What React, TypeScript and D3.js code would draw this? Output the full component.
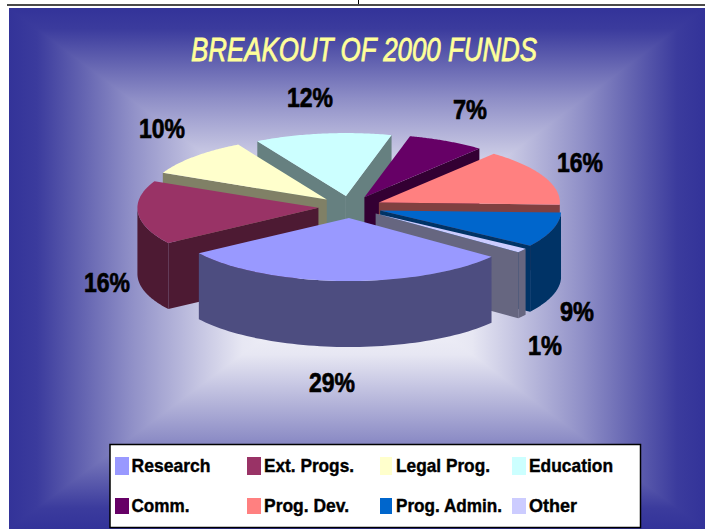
import React from "react";
import * as d3 from "d3";

const categories = ["Research", "Ext. Progs.", "Legal Prog.", "Education", "Comm.", "Prog. Dev.", "Prog. Admin.", "Other"];
// apparent share of the projected pie
const shares = [30, 16.4, 9.9, 12.2, 6.9, 14.6, 8.9, 1.1];
const labels = ["29%", "16%", "10%", "12%", "7%", "16%", "9%", "1%"];
const topColors = ["#9999ff", "#993366", "#ffffcc", "#ccffff", "#660066", "#ff8080", "#0066cc", "#ccccff"];
const legendTextWidths = [79, 90, 94, 84, 58, 85, 106, 48];
const labelAnchors: [number, number][] = [[332, 392], [107, 292], [162, 138], [310, 107], [470, 119], [580, 172], [577, 321], [545, 355]];
const gradientStops: [number, number][] = [[0, 0], [0.08, 0.04], [0.2, 0.22], [0.35, 0.45], [0.43, 0.56], [0.67, 0.88], [1, 1]];

const W = 705, H = 529;
const panel = { x: 9, y: 8, x2: 705, y2: 529 };
const focus = { x: (panel.x + panel.x2) / 2, y: (panel.y + panel.y2) / 2 };
const cx = 350, cy = 207, rx = 181, ry = 63, depth = 66, explode = 0.175;
const rad = (deg: number) => (deg * Math.PI) / 180;
const FONT = "'Liberation Sans', Arial, sans-serif";

const shade = d3.interpolateRgb("#333399", "#ffffff");
const pieGen = d3.pie<number>().sort(null).startAngle(rad(128)).endAngle(rad(128 + 360));
const arcs = pieGen(shares).map((a, i) => ({ ...a, i, mid: (a.startAngle + a.endAngle) / 2 }));
const order = [...arcs].sort((a, b) => Math.cos(b.mid) - Math.cos(a.mid));
const line = d3.line<[number, number]>();

function Slice({ a }: { a: (typeof arcs)[number] }) {
  const ox = cx + Math.sin(a.mid) * rx * explode;
  const oy = cy - Math.cos(a.mid) * ry * explode;
  const pt = (t: number, dz = 0): [number, number] => [ox + Math.sin(t) * rx, oy - Math.cos(t) * ry + dz];
  const sweep = (s: number, e: number) => d3.range(0, 61).map((k) => s + ((e - s) * k) / 60);
  const top = line([[ox, oy], ...sweep(a.startAngle, a.endAngle).map((t) => pt(t))]) + "Z";
  const fill = topColors[a.i];
  const c = d3.rgb(fill);
  const sideFill = d3.rgb(c.r * 0.5, c.g * 0.5, c.b * 0.5).formatHex();
  const faces: string[] = [];
  const radial = (t: number) => {
    const p = pt(t);
    return line([[ox, oy], p, [p[0], p[1] + depth], [ox, oy + depth]]) + "Z";
  };
  if (Math.sin(a.startAngle) < 0) faces.push(radial(a.startAngle));
  if (Math.sin(a.endAngle) > 0) faces.push(radial(a.endAngle));
  for (const [f0, f1] of [[rad(90), rad(270)], [rad(450), rad(630)]]) {
    const lo = Math.max(a.startAngle, f0), hi = Math.min(a.endAngle, f1);
    if (hi > lo) {
      const ts = sweep(lo, hi);
      faces.push(line([...ts.map((t) => pt(t)), ...[...ts].reverse().map((t) => pt(t, depth))]) + "Z");
    }
  }
  return (
    <g>
      {faces.map((d, k) => <path key={k} d={d} fill={sideFill} />)}
      <path d={top} fill={fill} />
    </g>
  );
}

export default function App() {
  const { x, y, x2, y2 } = panel;
  const stops = gradientStops.map(([o, v]) => <stop key={o} offset={o} stopColor={shade(v)} />);
  const crisp = { shapeRendering: "crispEdges" as const };
  return (
    <svg width={W} height={H} style={{ position: "fixed", left: 0, top: 0, display: "block" }}>
      <defs>
        <linearGradient id="gt" gradientUnits="userSpaceOnUse" x1={0} y1={y} x2={0} y2={focus.y}>{stops}</linearGradient>
        <linearGradient id="gb" gradientUnits="userSpaceOnUse" x1={0} y1={y2} x2={0} y2={focus.y}>{stops}</linearGradient>
        <linearGradient id="gl" gradientUnits="userSpaceOnUse" x1={x} y1={0} x2={focus.x} y2={0}>{stops}</linearGradient>
        <linearGradient id="gr" gradientUnits="userSpaceOnUse" x1={x2} y1={0} x2={focus.x} y2={0}>{stops}</linearGradient>
      </defs>
      <rect x={0} y={0} width={W} height={H} fill="#ffffff" />
      <rect x={358} y={0} width={1} height={4} fill="#000000" />
      <rect x={7} y={4} width={698} height={2} fill="#4a4a4a" {...crisp} />
      <polygon {...crisp} points={`${x},${y} ${x2},${y} ${focus.x},${focus.y}`} fill="url(#gt)" />
      <polygon {...crisp} points={`${x},${y2} ${x2},${y2} ${focus.x},${focus.y}`} fill="url(#gb)" />
      <polygon {...crisp} points={`${x},${y} ${x},${y2} ${focus.x},${focus.y}`} fill="url(#gl)" />
      <polygon {...crisp} points={`${x2},${y} ${x2},${y2} ${focus.x},${focus.y}`} fill="url(#gr)" />
      <text x={191} y={61} fontFamily={FONT} fontStyle="italic" fontSize={33} fill="#ffff99" stroke="#ffff99" strokeWidth={0.8} textLength={346} lengthAdjust="spacingAndGlyphs">BREAKOUT OF 2000 FUNDS</text>
      {order.map((a) => <Slice key={a.i} a={a} />)}
      {labels.map((t, i) => {
        const w = t.length === 3 ? 46 : 34;
        return (
          <text key={i} x={labelAnchors[i][0] - w / 2} y={labelAnchors[i][1]} fontFamily={FONT} fontWeight="bold" fontSize={28.5} fill="#000" stroke="#000" strokeWidth={0.7} textLength={w} lengthAdjust="spacingAndGlyphs">{t}</text>
        );
      })}
      <rect x={110} y={444.5} width={530.5} height={83} fill="#fff" stroke="#000" strokeWidth={1.5} />
      {categories.map((c, i) => {
        const col = i % 4, row = Math.floor(i / 4);
        const sx = [115, 247, 380, 512][col];
        const tx = [131.5, 264, 396, 529][col];
        return (
          <g key={c}>
            <rect x={sx} y={row ? 498 : 457} width={col === 2 ? 12 : 14} height={row ? 16 : 18} fill={topColors[i]} {...crisp} />
            <text x={tx} y={row ? 512 : 472} fontFamily={FONT} fontWeight="bold" fontSize={19} fill="#000" stroke="#000" strokeWidth={0.4} textLength={legendTextWidths[i]} lengthAdjust="spacingAndGlyphs">{c}</text>
          </g>
        );
      })}
    </svg>
  );
}
